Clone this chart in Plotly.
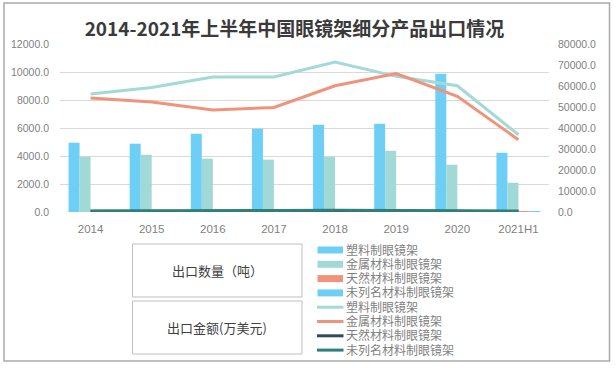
import plotly.graph_objects as go

# ---- data ----
years = ["2014", "2015", "2016", "2017", "2018", "2019", "2020", "2021H1"]
qty_plastic = [4950, 4880, 5590, 5950, 6230, 6300, 9880, 4230]
qty_metal = [3950, 4090, 3810, 3740, 3950, 4370, 3380, 2090]
qty_natural = [15, 14, 13, 12, 12, 11, 10, 6]
qty_other = [25, 22, 20, 22, 24, 22, 20, 12]
val_plastic = [56200, 59300, 64300, 64300, 71400, 64600, 60100, 36800]
val_metal = [54300, 52400, 48600, 49800, 60100, 65900, 55100, 34400]
val_natural = [300, 250, 200, 350, 400, 420, 380, 200]
val_other = [500, 450, 400, 700, 800, 750, 650, 450]

names = ["塑料制眼镜架", "金属材料制眼镜架", "天然材料制眼镜架", "未列名材料制眼镜架"]
bar_colors = ["#6DCFF6", "#A1D9D6", "#F0937B", "#6DCFF6"]
line_colors = ["#A3D9D7", "#F0937B", "#2F4B5A", "#2E8079"]

W, H = 616, 370
L, R, T, B = 60, 549, 44, 212

def px(x):
    return (x - L) / (R - L)

def py(y):
    return (B - y) / (B - T)

fig = go.Figure()
for name, vals, c in zip(names, [qty_plastic, qty_metal, qty_natural, qty_other], bar_colors):
    fig.add_trace(go.Bar(x=years, y=vals, name=name, marker_color=c,
                         marker_line_width=0, yaxis="y", showlegend=False))
for name, vals, c in zip(names, [val_plastic, val_metal, val_natural, val_other], line_colors):
    fig.add_trace(go.Scatter(x=years, y=vals, name=name, mode="lines",
                             line=dict(color=c, width=3), yaxis="y2", showlegend=False))

shapes = []
annotations = []
# outer border
shapes.append(dict(type="rect", xref="paper", yref="paper",
                   x0=px(4), x1=px(609.5), y0=py(361), y1=py(3),
                   line=dict(color="#ABABAB", width=1.5)))
# group boxes
for (y0, y1, label) in [(244, 297, "出口数量（吨）"), (301, 354, "出口金额(万美元)")]:
    shapes.append(dict(type="rect", xref="paper", yref="paper",
                       x0=px(132.5), x1=px(302), y0=py(y1), y1=py(y0),
                       line=dict(color="#BFBFBF", width=1)))
    annotations.append(dict(xref="paper", yref="paper", x=px(217), y=py((y0 + y1) / 2),
                            text=label, showarrow=False, xanchor="center", yanchor="middle",
                            font=dict(family="Noto Sans CJK SC", size=13, color="#404040")))
# legend
rows = [250, 264.3, 278.6, 292.9, 307.2, 321.5, 335.8, 350.1]
items = [(n, c, "bar") for n, c in zip(names, bar_colors)] + \
        [(n, c, "line") for n, c in zip(names, line_colors)]
for (n, c, kind), yy in zip(items, rows):
    if kind == "bar":
        shapes.append(dict(type="rect", xref="paper", yref="paper",
                           x0=px(317.5), x1=px(343), y0=py(yy + 3.5), y1=py(yy - 3.5),
                           fillcolor=c, line=dict(width=0)))
    else:
        shapes.append(dict(type="line", xref="paper", yref="paper",
                           x0=px(317), x1=px(343.5), y0=py(yy), y1=py(yy),
                           line=dict(color=c, width=3)))
    annotations.append(dict(xref="paper", yref="paper", x=px(345), y=py(yy),
                            text=n, showarrow=False, xanchor="left", yanchor="middle",
                            borderpad=0,
                            font=dict(family="Liberation Sans, Noto Sans CJK SC",
                                      size=12, color="#7F7F7F")))

tickfont = dict(family="Liberation Sans", size=10.5, color="#7F7F7F")
fig.update_layout(
    width=W, height=H,
    margin=dict(l=L, r=W - R, t=T, b=H - B, pad=0),
    paper_bgcolor="white", plot_bgcolor="white",
    barmode="group", bargap=0.28, bargroupgap=0,
    title=dict(text="<b>2014-2021年上半年中国眼镜架细分产品出口情况</b>",
               x=294.5 / W, y=1 - 29 / H, xanchor="center", yanchor="middle",
               font=dict(family="Noto Sans CJK SC", size=19, color="#3A3A3A")),
    xaxis=dict(showgrid=False, showline=False, zeroline=False, ticks="",
               ticklabelstandoff=8,
               tickfont=dict(family="Liberation Sans", size=11.5, color="#7F7F7F")),
    yaxis=dict(range=[0, 12000], dtick=2000, tickformat=".1f", showgrid=True,
               gridcolor="#D9D9D9", gridwidth=1, zeroline=False, showline=False,
               ticks="", ticklabelstandoff=10, tickfont=tickfont),
    yaxis2=dict(range=[0, 80000], dtick=10000, tickformat=".1f", overlaying="y",
                side="right", showgrid=False, zeroline=False, showline=False,
                ticks="", ticklabelstandoff=8, tickfont=tickfont),
    shapes=shapes, annotations=annotations, showlegend=False,
)

fig.write_html("out.html", config={"displayModeBar": False},
               post_script="document.body.style.margin='0px';document.body.style.overflow='hidden';")
